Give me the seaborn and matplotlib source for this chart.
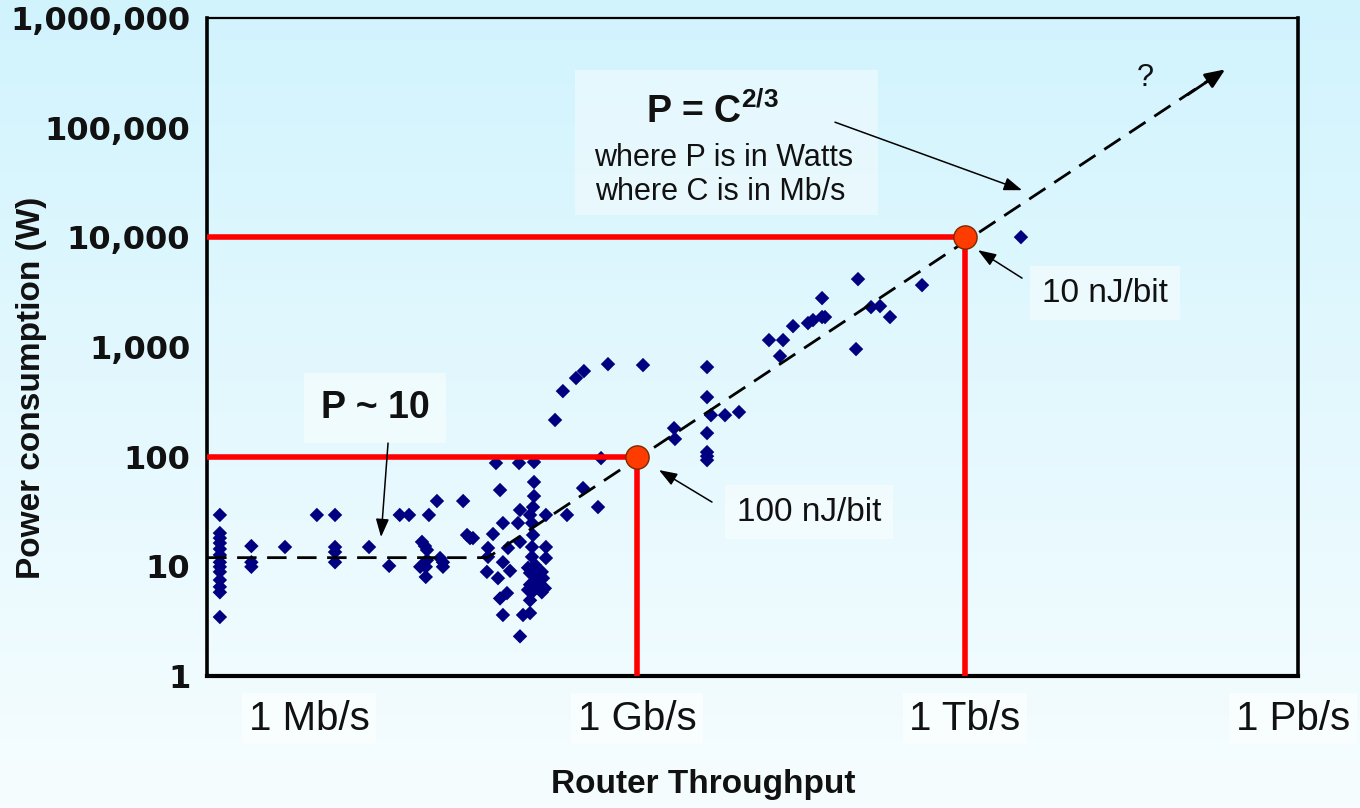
import numpy as np
import matplotlib
matplotlib.use('Agg')
import matplotlib.pyplot as plt
import seaborn as sns
import pandas as pd
from matplotlib.patches import Rectangle

# ---------------- data ----------------
throughput_mbps = [
    0.153, 0.153, 0.153, 0.153, 0.153, 0.153, 0.153, 0.153, 0.153, 0.153, 0.153, 0.153, 0.153,
    0.297, 0.297, 0.297, 0.603, 1.18, 1.73, 1.73, 1.73, 1.73, 3.54, 5.41, 6.76, 8.22,
    10.8, 11.5, 12.0, 10.4, 11.7, 12.0, 11.7, 12.5, 14.8, 15.8, 16.8, 16.8,
    25.7, 27.9, 29.7, 31.6, 42.4, 43.4, 43.4, 48.2, 51.3, 55.9, 59.4, 59.4,
    66.1, 69.0, 53.5, 64.7, 55.9, 59.4, 83.4, 85.1, 81.6, 85.1, 90.7, 85.1,
    114.3, 114.3, 114.3, 112.0, 105.1, 109.6, 112.0, 109.6, 109.6, 100.8, 105.1, 116.7,
    134.7, 138.1, 105.1, 121.4, 143.6, 109.6, 134.7, 105.1, 105.1, 116.7, 129.2, 100.8,
    146.9, 146.9, 146.9, 228.9,
    178, 210, 277, 327, 543, 1135, 4373, 4373, 4751, 6383, 8570, 4373, 2182, 2225,
    4373, 4373, 4373, 469, 321, 440,
    16120, 21670, 20330, 26730, 36650, 40730, 49290, 52430, 49290, 105100, 100800,
    138300, 167100, 206100, 404700, 3.25e6,
]
power_w = [
    29.4, 20.1, 18.1, 16.3, 14.4, 12.7, 10.9, 9.9, 8.9, 7.5, 6.5, 5.8, 3.45,
    15.3, 10.9, 9.9, 15.0, 29.4, 29.4, 15.0, 13.5, 10.9, 15.0, 10.1, 29.4, 29.4,
    16.7, 15.3, 14.1, 9.9, 9.9, 11.4, 8.0, 29.4, 39.4, 11.9, 10.9, 9.9,
    39.4, 19.3, 18.1, 18.1, 8.9, 14.7, 12.2, 19.7, 87.5, 49.6, 24.8, 10.9,
    14.7, 9.1, 7.8, 5.7, 5.1, 3.6, 87.5, 32.6, 24.8, 16.7, 3.6, 2.3,
    89.3, 58.7, 43.7, 34.7, 29.4, 24.8, 19.3, 15.0, 12.2, 9.7, 8.7, 8.0,
    8.9, 7.8, 6.8, 6.8, 6.3, 5.8, 5.8, 4.9, 3.75, 10.3, 7.5, 6.1,
    29.4, 15.0, 11.9, 29.4,
    216, 396, 521, 603, 698, 684, 656, 349, 239, 239, 255, 164, 182, 145,
    110, 101, 93, 97, 51.7, 34.7,
    1156, 1156, 826, 1550, 1652, 1759, 1875, 1875, 2791, 4160, 957,
    2311, 2360, 1875, 3665, 10040,
]

# fitted trend (flat ~10 W, then P = C^(2/3)), drawn as a dashed polyline
fit_c = [0.117, 43, 2.4e8]
fit_p = [12, 12, 3.4e5]

# highlighted operating points (1 Gb/s -> 100 W, 1 Tb/s -> 10 kW)
ref_c = [1e3, 1e6]
ref_p = [100, 1e4]

x_ticks = [10.0 ** k for k in range(0, 10)]
x_labels = ['1 Mb/s', '', '', '1 Gb/s', '', '', '1 Tb/s', '', '', '1 Pb/s']
y_ticks = [1, 10, 100, 1000, 10000, 100000, 1000000]
y_labels = ['1', '10', '100', '1,000', '10,000', '100,000', '1,000,000']

# ---------------- style ----------------
sns.set_theme(style='white')
plt.rcParams['font.family'] = ['Liberation Sans', 'DejaVu Sans']
plt.rcParams['mathtext.fontset'] = 'custom'
plt.rcParams['mathtext.rm'] = 'Liberation Sans'
plt.rcParams['mathtext.bf'] = 'Liberation Sans:bold'
plt.rcParams['text.color'] = '#111111'
plt.rcParams['axes.labelcolor'] = '#111111'
plt.rcParams['xtick.color'] = '#111111'
plt.rcParams['ytick.color'] = '#111111'

W, H = 1360, 808
fig = plt.figure(figsize=(W / 100, H / 100), dpi=100)

# background gradient
bg = fig.add_axes([0, 0, 1, 1], zorder=0)
t = np.linspace(0, 1, 256)[:, None, None]
top_col = np.array([0.82, 0.955, 0.992])
bot_col = np.array([0.965, 0.992, 1.0])
bg.imshow(top_col + (bot_col - top_col) * t, aspect='auto', extent=[0, 1, 0, 1], origin='upper')
bg.set_xlim(0, 1)
bg.set_ylim(0, 1)
bg.add_patch(Rectangle((575 / W, 1 - 215 / H), (878 - 575) / W, (215 - 70) / H,
                       facecolor='white', alpha=0.4, edgecolor='none'))
bg.set_axis_off()

ax = fig.add_axes([207 / W, 1 - 676 / H, (1298 - 207) / W, (676 - 18) / H], zorder=1)
ax.patch.set_alpha(0)
ax.set_xscale('log')
ax.set_yscale('log')
ax.set_xlim(10 ** -0.933, 10 ** 9.046)
ax.set_ylim(1, 1e6)

df = pd.DataFrame({'throughput': throughput_mbps, 'power': power_w})
sns.scatterplot(data=df, x='throughput', y='power', marker='D', s=54,
                color='#000080', edgecolor='none', ax=ax, zorder=3, legend=False)

# dashed trend line
ax.plot(fit_c, fit_p, color='black', lw=2.0, dashes=(7, 3.8), zorder=4,
        solid_capstyle='butt')
ax.annotate('', xy=(fit_c[-1], fit_p[-1]), xytext=(fit_c[-1] / 2.2, fit_p[-1] / 1.7),
            arrowprops=dict(arrowstyle='-|>,head_length=0.6,head_width=0.25',
                            mutation_scale=20, color='black', lw=2.0,
                            shrinkA=0, shrinkB=0), zorder=4)

# red reference lines
for c, p in zip(ref_c, ref_p):
    ax.plot([10 ** -0.933, c, c], [p, p, 1], color='#ff0000', lw=4.0, zorder=5,
            solid_joinstyle='miter')
sns.scatterplot(x=ref_c, y=ref_p, s=280, color='#ff3c00', edgecolor='#7a2a00',
                linewidth=1.0, ax=ax, zorder=6, legend=False)

# axes cosmetics
ax.set_xticks(x_ticks)
ax.set_xticklabels(x_labels)
ax.set_yticks(y_ticks)
ax.set_yticklabels(y_labels)
ax.minorticks_off()
ax.tick_params(axis='x', direction='in', length=5, width=1, color='#444444',
               pad=17, labelsize=29)
ax.tick_params(axis='y', direction='in', length=6, width=1, color='#444444',
               pad=12, labelsize=23)
for lab in ax.get_yticklabels():
    lab.set_fontweight('bold')
    lab.set_family(['DejaVu Sans'])
for lab in ax.get_xticklabels():
    lab.set_bbox(dict(facecolor='white', alpha=0.5, edgecolor='none', pad=5))

for side, lw in [('left', 2.6), ('bottom', 3.0), ('right', 2.6), ('top', 1.6)]:
    ax.spines[side].set_visible(True)
    ax.spines[side].set_color('black')
    ax.spines[side].set_linewidth(lw)

ax.set_xlabel('Router Throughput', fontsize=24, fontweight='bold')
ax.set_ylabel('Power consumption (W)', fontsize=24, fontweight='bold')
ax.xaxis.set_label_coords((703 - 207) / 1091, (676 - 785) / 658)
ax.yaxis.set_label_coords((32 - 207) / 1091, (676 - 388) / 658)
ax.xaxis.label.set_va('center')
ax.yaxis.label.set_va('center')

# annotation texts
def d(lx, ly):
    return (10 ** lx, 10 ** ly)

ax.text(*d(3.686, 5.14), r'P = C$^{\mathbf{2/3}}$', fontsize=27, fontweight='bold',
        ha='center', va='center', zorder=7)
ax.text(*d(3.796, 4.72), 'where P is in Watts', fontsize=22, ha='center', va='center', zorder=7)
ax.text(*d(3.759, 4.41), 'where C is in Mb/s', fontsize=22, ha='center', va='center', zorder=7)

box = dict(boxstyle='square,pad=0.35', facecolor='white', alpha=0.45, edgecolor='none')
ax.text(*d(0.604, 2.443), 'P ~ 10', fontsize=27, fontweight='bold', ha='center',
        va='center', bbox=dict(boxstyle='square,pad=0.45', facecolor='white', alpha=0.45,
                               edgecolor='none'), zorder=7)
ax.text(*d(7.281, 3.491), '10 nJ/bit', fontsize=24, ha='center', va='center', bbox=box, zorder=7)
ax.text(*d(4.573, 1.495), '100 nJ/bit', fontsize=24, ha='center', va='center', bbox=box, zorder=7)
ax.text(*d(7.647, 5.451), '?', fontsize=22, ha='center', va='center', zorder=7)

arrow = dict(arrowstyle='-|>,head_length=0.55,head_width=0.2', mutation_scale=20,
             color='black', lw=1.1, shrinkA=0, shrinkB=0)
ax.annotate('', xy=d(6.522, 4.43), xytext=d(4.811, 5.05), arrowprops=arrow, zorder=7)
ax.annotate('', xy=d(0.659, 1.267), xytext=d(0.723, 2.124), arrowprops=arrow, zorder=7)
ax.annotate('', xy=d(3.201, 1.878), xytext=d(3.686, 1.586), arrowprops=arrow, zorder=7)
ax.annotate('', xy=d(6.119, 3.883), xytext=d(6.522, 3.628), arrowprops=arrow, zorder=7)

fig.savefig('out.png', dpi=100)
